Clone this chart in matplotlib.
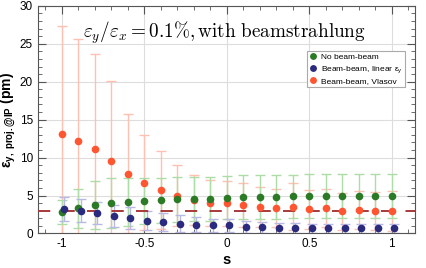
import numpy as np
import matplotlib
matplotlib.use('Agg')
import matplotlib.pyplot as plt
from matplotlib.ticker import MultipleLocator

plt.rcParams['font.family'] = ['Liberation Sans', 'DejaVu Sans']
plt.rcParams['mathtext.fontset'] = 'custom'
plt.rcParams['mathtext.rm'] = 'Liberation Sans'
plt.rcParams['mathtext.it'] = 'Liberation Sans:italic'
plt.rcParams['mathtext.bf'] = 'Liberation Sans:bold'

s = [-1.0, -0.9, -0.8, -0.7, -0.6, -0.5, -0.4, -0.3, -0.2, -0.1, 0.0,
     0.1, 0.2, 0.3, 0.4, 0.5, 0.6, 0.7, 0.8, 0.9, 1.0]

# no beam-beam
eps_nobb = [2.85, 3.3, 3.73, 3.95, 4.17, 4.3, 4.35, 4.48, 4.57, 4.6, 4.7,
            4.8, 4.8, 4.8, 4.88, 4.92, 4.95, 4.93, 4.95, 4.95, 4.95]
err_nobb = [1.55, 2.6, 3.2, 3.3, 3.15, 3.05, 3.0, 2.95, 2.9, 2.9, 2.85,
            2.85, 2.85, 2.85, 2.85, 2.85, 2.85, 2.85, 2.85, 2.85, 2.85]

# beam-beam, linear
eps_lin = [3.17, 3.0, 2.72, 2.28, 1.98, 1.7, 1.49, 1.27, 1.14, 1.05, 1.05,
           0.87, 0.79, 0.75, 0.72, 0.66, 0.66, 0.66, 0.66, 0.66, 0.66]
err_lin = [1.58, 1.55, 1.45, 1.45, 1.45, 1.3, 1.2, 1.1, 1.0, 0.9, 0.8,
           0.75, 0.7, 0.65, 0.65, 0.6, 0.6, 0.6, 0.6, 0.6, 0.6]

# beam-beam, Vlasov
eps_vla = [13.1, 12.2, 11.1, 9.6, 7.9, 6.7, 5.75, 4.96, 4.4, 4.04, 3.96,
           3.8, 3.5, 3.3, 3.5, 3.17, 3.3, 2.9, 3.07, 2.9, 2.94]
err_vla = [14.2, 13.4, 12.5, 10.5, 7.8, 6.3, 5.15, 4.0, 3.3, 3.0, 2.95,
           2.9, 2.6, 2.5, 3.1, 2.6, 2.5, 2.45, 2.5, 2.5, 2.6]

eps_ref = 2.9

s = np.array(s)

fig = plt.figure(figsize=(4.26, 2.68), dpi=100)
ax = fig.add_axes([0.089, 0.129, 0.885, 0.849])

c_green, c_blue, c_red = '#2b7a25', '#2a2a7e', '#ff5530'
e_green, e_blue, e_red = '#addca6', '#b8b8e4', '#ffc0b2'

ax.errorbar(s, eps_vla, yerr=err_vla, fmt='none', ecolor=e_red, elinewidth=1.0,
            capsize=3.6, capthick=1.0, zorder=2)
ax.errorbar(s, eps_nobb, yerr=err_nobb, fmt='none', ecolor=e_green, elinewidth=1.0,
            capsize=3.6, capthick=1.0, zorder=2)
ax.errorbar(s + 0.015, eps_lin, yerr=err_lin, fmt='none', ecolor=e_blue, elinewidth=1.0,
            capsize=3.6, capthick=1.0, zorder=2)

ax.axhline(eps_ref, color='#a83a3a', lw=1.4, dashes=(6.3, 6.3), zorder=3)

ax.plot(s, eps_vla, 'o', color=c_red, ms=5.5, mec='none', zorder=4, label='Beam-beam, Vlasov')
ax.plot(s, eps_nobb, 'o', color=c_green, ms=5.5, mec='none', zorder=5, label='No beam-beam')
ax.plot(s + 0.015, eps_lin, 'o', color=c_blue, ms=5.5, mec='none', zorder=6,
        label='Beam-beam, linear ε$_\\mathregular{y}$')

ax.set_xlim(-1.145, 1.14)
ax.set_ylim(0, 30)
ax.xaxis.set_major_locator(MultipleLocator(0.5))
ax.xaxis.set_minor_locator(MultipleLocator(0.1))
ax.yaxis.set_major_locator(MultipleLocator(5))
ax.yaxis.set_minor_locator(MultipleLocator(1))
ax.set_xticks([-1, -0.5, 0, 0.5, 1])
ax.set_xticklabels(['-1', '-0.5', '0', '0.5', '1'])
ax.tick_params(which='both', direction='in', top=True, right=True, labelsize=8.5, color='#555555')
ax.tick_params(which='major', length=6)
ax.tick_params(which='minor', length=3)
for sp in ax.spines.values():
    sp.set_color('#555555')
ax.grid(True, which='major', color='#dddddd', lw=0.8)
ax.set_axisbelow(True)

ax.set_xlabel('s', fontsize=10.5, fontweight='bold', labelpad=2)
ax.set_ylabel(r'ε$_{\mathbf{y,\ proj.@IP}}$ (pm)', fontsize=10, fontweight='bold', labelpad=1)

ax.text(0.495, 0.88, r'$\varepsilon_y/\varepsilon_x = 0.1\%, \mathrm{with\ beamstrahlung}$',
        transform=ax.transAxes, ha='center', va='center', fontsize=13.8, math_fontfamily='cm')

handles, labels = ax.get_legend_handles_labels()
order = [1, 2, 0]
leg = ax.legend([handles[i] for i in order], [labels[i] for i in order],
                loc='upper right', bbox_to_anchor=(0.985, 0.82), fontsize=6,
                frameon=True, fancybox=False, edgecolor='#aaaaaa', framealpha=1,
                handlelength=1.0, handletextpad=0.4, borderpad=0.3, labelspacing=0.3,
                markerscale=0.9)
leg.get_frame().set_linewidth(0.8)

plt.savefig('out.png', dpi=100)
